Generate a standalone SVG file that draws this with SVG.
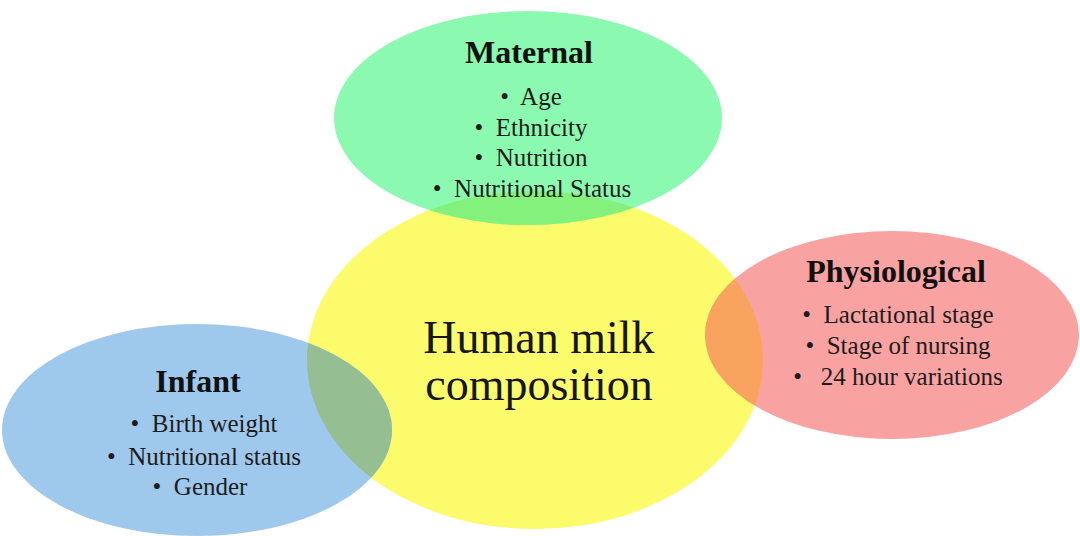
<svg xmlns="http://www.w3.org/2000/svg" width="1080" height="536" viewBox="0 0 1080 536">
<defs>
<clipPath id="clipY"><ellipse cx="535" cy="360" rx="228" ry="169"/></clipPath>
<style>
.t{font-family:"Liberation Serif","Times New Roman",serif;font-weight:bold;font-size:32px;fill:#111;text-anchor:middle}
.i{font-family:"Liberation Serif","Times New Roman",serif;font-size:25px;fill:#1c1c1c;text-anchor:middle}
.c{font-family:"Liberation Serif","Times New Roman",serif;font-size:46px;fill:#161616;text-anchor:middle}
</style>
</defs>
<rect width="1080" height="536" fill="#ffffff"/>
<g id="center">
<ellipse cx="535" cy="360" rx="228" ry="169" fill="#fcfb6c"/>
</g>
<g id="maternal">
<ellipse cx="528" cy="118" rx="194" ry="107" fill="#8cf9b0"/>
<ellipse cx="528" cy="118" rx="194" ry="107" fill="#84f17c" clip-path="url(#clipY)"/>
<text class="t" x="529" y="63">Maternal</text>
<text class="i" x="531" y="105">•&#160; Age</text>
<text class="i" x="531" y="136">•&#160; Ethnicity</text>
<text class="i" x="531" y="166">•&#160; Nutrition</text>
<text class="i" x="532" y="197">•&#160; Nutritional Status</text>
</g>
<g id="physiological">
<ellipse cx="892" cy="335" rx="187" ry="104" fill="#f9a2a2"/>
<ellipse cx="892" cy="335" rx="187" ry="104" fill="#f8a45e" clip-path="url(#clipY)"/>
<text class="t" x="896" y="282">Physiological</text>
<text class="i" x="898" y="323">•&#160; Lactational stage</text>
<text class="i" x="898" y="354">•&#160; Stage of nursing</text>
<text class="i" x="898" y="385">•&#160;&#160; 24 hour variations</text>
</g>
<g id="infant">
<ellipse cx="197" cy="430" rx="195" ry="106" fill="#9fc9ec"/>
<ellipse cx="197" cy="430" rx="195" ry="106" fill="#95be92" clip-path="url(#clipY)"/>
<text class="t" x="198" y="392">Infant</text>
<text class="i" x="204" y="432">•&#160; Birth weight</text>
<text class="i" x="204" y="465">•&#160; Nutritional status</text>
<text class="i" x="200" y="495">•&#160; Gender</text>
</g>
<g id="center-label">
<text class="c" x="539" y="353">Human milk</text>
<text class="c" x="539" y="400">composition</text>
</g>
<g id="connectors"/>
</svg>
